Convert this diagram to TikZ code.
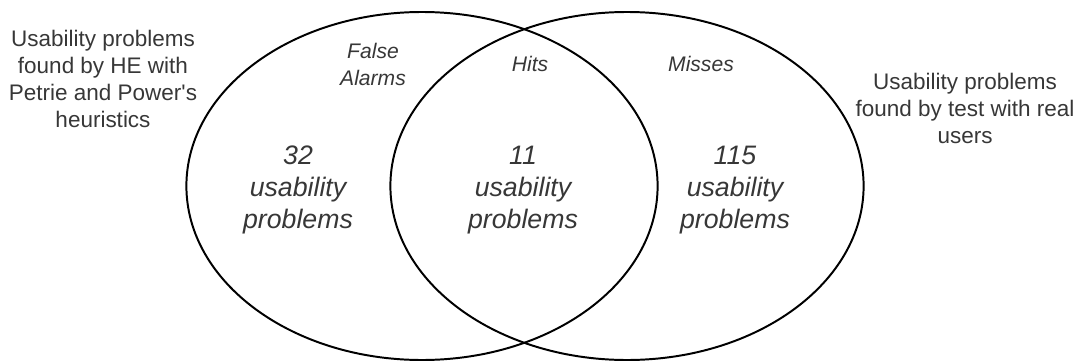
\documentclass[tikz,border=0pt]{standalone}
\usepackage{fontspec}
\setmainfont{Liberation Sans}
\usepackage{xcolor}
\usepackage{tikz}
\usetikzlibrary{shapes.geometric, positioning}
\definecolor{labelcolor}{RGB}{55, 55, 55}

\begin{document}
\begin{tikzpicture}[
    set/.style={draw, ellipse, line width=1.4pt, minimum width=11.78cm, minimum height=8.7cm},
    sidetext/.style={font=\fontsize{16}{19}\selectfont, text=labelcolor, align=center, anchor=base, inner sep=0pt},
    region/.style={font=\fontsize{15}{19}\selectfont\itshape, text=labelcolor, align=center, anchor=base, inner sep=0pt},
    count/.style={font=\fontsize{19}{22.5}\selectfont\itshape, text=labelcolor, align=center, anchor=base, inner sep=0pt}
]
    \useasboundingbox (0, 0) rectangle (27, 9.025);

    % The two sets
    \node[set] (he) at (10.55, 4.375) {};
    \node[set, minimum width=11.83cm] (test) at (15.675, 4.375) {};

    % Set descriptions (base = last line)
    \node[sidetext] (helabel) at (2.575, 5.85) {Usability problems\\found by HE with\\Petrie and Power\textquotesingle s\\heuristics};
    \node[sidetext] (testlabel) at (24.125, 5.45) {Usability problems\\found by test with real\\users};

    % Region names
    \node[region] (falsealarms) at (9.325, 6.9) {False\\Alarms};
    \node[region] (hits) at (13.25, 7.25) {Hits};
    \node[region] (misses) at (17.525, 7.25) {Misses};

    % Counts
    \node[count] (nfalse) at (7.45, 3.325) {32\\usability\\problems};
    \node[count] (nhits) at (13.075, 3.325) {11\\usability\\problems};
    \node[count] (nmisses) at (18.375, 3.325) {115\\usability\\problems};

\end{tikzpicture}
\end{document}
